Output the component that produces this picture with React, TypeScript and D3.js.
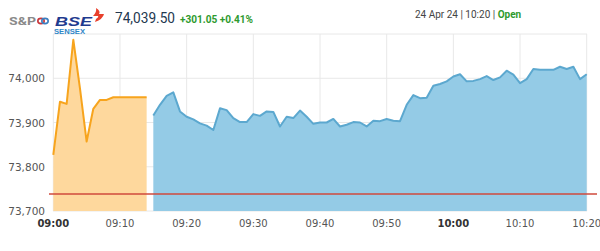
import React from "react";
import * as d3 from "d3";

const preOpenStart = "09:00";
const preOpenValues = [73827, 73947, 73942, 74087, 73977, 73857, 73931, 73951, 73951, 73957, 73957, 73957, 73957, 73957, 73957];
const sessionStart = "09:15";
const sessionValues = [
  73916, 73940, 73960, 73968, 73925, 73913, 73907, 73898, 73893, 73883,
  73932, 73928, 73910, 73901, 73901, 73919, 73915, 73925, 73924, 73891,
  73913, 73910, 73927, 73913, 73897, 73900, 73900, 73908, 73891, 73895,
  73901, 73900, 73891, 73904, 73903, 73908, 73904, 73903, 73940, 73962,
  73955, 73956, 73983, 73987, 73993, 74004, 74009, 73993, 73994, 73998,
  74005, 73996, 74002, 74017, 74008, 73989, 73998, 74021, 74019, 74019,
  74019, 74026, 74021, 74026, 73998, 74009,
];
const prevClose = 73738.45;
const xTicks = ["09:00", "09:10", "09:20", "09:30", "09:40", "09:50", "10:00", "10:10", "10:20"];
const boldTicks = ["09:00", "10:00"];
const yTicks = [73700, 73800, 73900, 74000, 74100];
const yLabelTicks = [73700, 73800, 73900, 74000];
const header = { value: "74,039.50", change: "+301.05 +0.41%", stamp: "24 Apr 24 | 10:20 | ", status: "Open" };

const toMin = (s: string) => {
  const [h, m] = s.split(":").map(Number);
  return h * 60 + m;
};
const series = (start: string, vals: number[]) => vals.map((v, i) => ({ t: toMin(start) + i, v }));

export default function App() {
  const W = 600, H = 251;
  const x = d3.scaleLinear().domain([toMin("09:00"), toMin("10:20")]).range([53.3, 586.7]);
  const y = d3.scaleLinear().domain([73700, 74100]).range([211, 34]);
  const pre = series(preOpenStart, preOpenValues);
  const ses = series(sessionStart, sessionValues);
  const line = d3.line<{ t: number; v: number }>().x(d => x(d.t)).y(d => y(d.v));
  const area = d3.area<{ t: number; v: number }>().x(d => x(d.t)).y0(y(73700)).y1(d => y(d.v));
  const axisFont = "'DejaVu Sans', Verdana, sans-serif";
  const fmt = d3.format(",");

  return (
    <svg width={W} height={H} style={{ position: "absolute", left: 0, top: 0, background: "#fff" }}>
      {/* grid */}
      {yTicks.map(t => (
        <line key={t} x1={53} x2={587} y1={y(t)} y2={y(t)} stroke="#e8e8e8" strokeWidth={1} />
      ))}
      {xTicks.map(t => (
        <line key={t} x1={x(toMin(t))} x2={x(toMin(t))} y1={y(74100)} y2={y(73700)} stroke="#e8e8e8" strokeWidth={1} />
      ))}
      {/* areas */}
      <path d={area(pre) || ""} fill="#fed89d" />
      <path d={line(pre) || ""} fill="none" stroke="#f7a41d" strokeWidth={2} strokeLinejoin="round" />
      <path d={area(ses) || ""} fill="#94cbe6" />
      <path d={line(ses) || ""} fill="none" stroke="#5ca8cf" strokeWidth={2} strokeLinejoin="round" />
      {/* prev close */}
      <line x1={49} x2={597} y1={y(prevClose)} y2={y(prevClose)} stroke="#cf4a3c" strokeWidth={1.5} />
      {/* y labels */}
      {yLabelTicks.map(t => (
        <text key={t} x={45} y={y(t) + 4} textAnchor="end" fontFamily={axisFont} fontSize={10.5} fill="#555">
          {fmt(t)}
        </text>
      ))}
      {/* x labels */}
      {xTicks.map(t => (
        <text key={t} x={x(toMin(t))} y={227} textAnchor="middle" fontFamily={axisFont} fontSize={10}
          fontWeight={boldTicks.includes(t) ? "bold" : "normal"} fill={boldTicks.includes(t) ? "#333" : "#555"}>
          {t}
        </text>
      ))}
      {/* header logo */}
      <text x={9} y={25} fontFamily="Roboto, Arial, sans-serif" fontWeight="bold" fontSize={11.5} fill="#8a8a8a"
        textLength={27} lengthAdjust="spacingAndGlyphs">S&amp;P</text>
      <ellipse cx={41} cy={21} rx={3.2} ry={2.6} fill="none" stroke="#c9373d" strokeWidth={1.6} />
      <ellipse cx={45} cy={21} rx={3.2} ry={2.6} fill="none" stroke="#3a7fc1" strokeWidth={1.6} />
      <text x={55} y={26} fontFamily="Arial, 'Liberation Sans', sans-serif" fontWeight="bold" fontStyle="italic" fontSize={12}
        fill="#1f3b8f" textLength={37} lengthAdjust="spacingAndGlyphs">BSE</text>
      <path d="M96,8 Q101,11 99,14 L104,14 Q103,19 95,22 L96,19 Q99,17 98,16 L93,16 Q97,12 96,8 Z" fill="#e8402c" />
      <text x={54} y={33.5} fontFamily="Arial, 'Liberation Sans', sans-serif" fontWeight="bold" fontSize={6.5} fill="#2f86c7"
        textLength={31} lengthAdjust="spacingAndGlyphs">SENSEX</text>
      <text x={115} y={23} fontFamily="Roboto, Arial, sans-serif" fontSize={15} fill="#23384f"
        textLength={60} lengthAdjust="spacingAndGlyphs">{header.value}</text>
      <text x={180} y={23} fontFamily="Roboto, Arial, sans-serif" fontWeight="bold" fontSize={10.5} fill="#2e9a2e"
        textLength={73} lengthAdjust="spacingAndGlyphs">{header.change}</text>
      <text x={415} y={18} fontFamily="Roboto, Arial, sans-serif" fontSize={10} fill="#444">
        {header.stamp}
        <tspan fill="#2e9a2e" fontWeight="bold">{header.status}</tspan>
      </text>
    </svg>
  );
}
